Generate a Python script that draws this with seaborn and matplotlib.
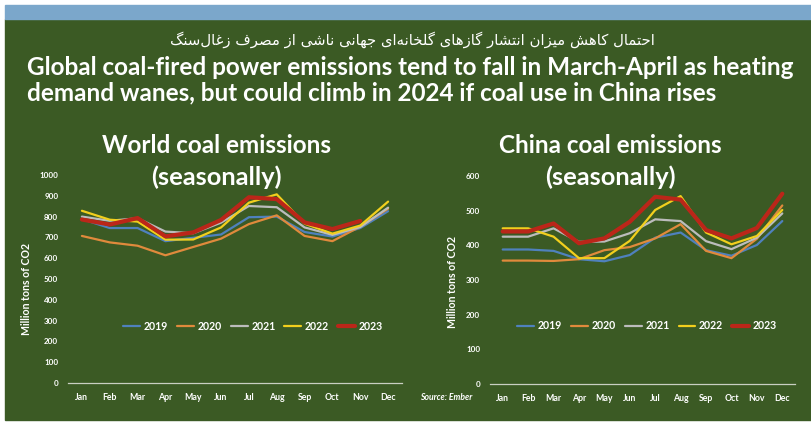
import numpy as np
import pandas as pd
import matplotlib
matplotlib.use("Agg")
import matplotlib.pyplot as plt
import seaborn as sns
from matplotlib.patches import Rectangle
from matplotlib.lines import Line2D

# ---------------- data ----------------
months = ["Jan", "Feb", "Mar", "Apr", "May", "Jun", "Jul", "Aug", "Sep", "Oct", "Nov", "Dec"]
years = ["2019", "2020", "2021", "2022", "2023"]

world_2019 = [788, 745, 745, 682, 698, 714, 797, 800, 726, 704, 745, 826]
world_2020 = [707, 676, 660, 614, 654, 694, 764, 806, 707, 682, 752, 838]
world_2021 = [800, 780, 792, 728, 720, 771, 851, 845, 748, 712, 750, 843]
world_2022 = [828, 785, 776, 689, 690, 748, 867, 907, 766, 718, 757, 872]
world_2023 = [786, 762, 793, 705, 724, 784, 893, 884, 772, 740, 779, np.nan]

china_2019 = [388, 388, 384, 360, 354, 372, 422, 437, 386, 370, 401, 470]
china_2020 = [356, 356, 355, 360, 386, 395, 420, 461, 384, 363, 419, 515]
china_2021 = [425, 425, 449, 410, 411, 435, 475, 470, 412, 389, 422, 492]
china_2022 = [449, 449, 425, 363, 363, 413, 502, 542, 437, 403, 427, 502]
china_2023 = [440, 440, 463, 406, 420, 468, 540, 532, 444, 420, 450, 549]

world_yticks = [0, 100, 200, 300, 400, 500, 600, 700, 800, 900, 1000]
china_yticks = [0, 100, 200, 300, 400, 500, 600]

persian_title = "احتمال کاهش میزان انتشار گازهای گلخانه\u200cای جهانی ناشی از مصرف زغال\u200cسنگ"
title_line1 = "Global coal-fired power emissions tend to fall in March-April as heating"
title_line2 = "demand wanes, but could climb in 2024 if coal use in China rises"
world_title = "World coal emissions"
china_title = "China coal emissions"
sub_title = "(seasonally)"
ylabel = "Million tons of CO2"
source = "Source: Ember"

# ---------------- simple Persian shaping for display ----------------
FORMS = {
    "ا": (0xFE8D, 0xFE8E, None, None),
    "ب": (0xFE8F, 0xFE90, 0xFE91, 0xFE92),
    "ت": (0xFE95, 0xFE96, 0xFE97, 0xFE98),
    "ج": (0xFE9D, 0xFE9E, 0xFE9F, 0xFEA0),
    "ح": (0xFEA1, 0xFEA2, 0xFEA3, 0xFEA4),
    "خ": (0xFEA5, 0xFEA6, 0xFEA7, 0xFEA8),
    "د": (0xFEA9, 0xFEAA, None, None),
    "ر": (0xFEAD, 0xFEAE, None, None),
    "ز": (0xFEAF, 0xFEB0, None, None),
    "س": (0xFEB1, 0xFEB2, 0xFEB3, 0xFEB4),
    "ش": (0xFEB5, 0xFEB6, 0xFEB7, 0xFEB8),
    "ص": (0xFEB9, 0xFEBA, 0xFEBB, 0xFEBC),
    "غ": (0xFECD, 0xFECE, 0xFECF, 0xFED0),
    "ف": (0xFED1, 0xFED2, 0xFED3, 0xFED4),
    "ل": (0xFEDD, 0xFEDE, 0xFEDF, 0xFEE0),
    "م": (0xFEE1, 0xFEE2, 0xFEE3, 0xFEE4),
    "ن": (0xFEE5, 0xFEE6, 0xFEE7, 0xFEE8),
    "ه": (0xFEE9, 0xFEEA, 0xFEEB, 0xFEEC),
    "و": (0xFEED, 0xFEEE, None, None),
    "ک": (0xFB8E, 0xFB8F, 0xFB90, 0xFB91),
    "گ": (0xFB92, 0xFB93, 0xFB94, 0xFB95),
    "ی": (0xFBFC, 0xFBFD, 0xFBFE, 0xFBFF),
}


def shape_rtl(s):
    out = []
    for i, c in enumerate(s):
        if c not in FORMS:
            if c != "\u200c":
                out.append(c)
            continue
        prev = s[i - 1] if i > 0 else None
        nxt = s[i + 1] if i + 1 < len(s) else None
        f = FORMS[c]
        jp = prev in FORMS and FORMS[prev][2] is not None
        jn = f[2] is not None and nxt in FORMS
        if jp and jn:
            g = f[3]
        elif jp:
            g = f[1]
        elif jn:
            g = f[2]
        else:
            g = f[0]
        out.append(chr(g))
    return "".join(out)[::-1]


# ---------------- style ----------------
sns.set_theme(style="white")
plt.rcParams["font.family"] = ["Lato", "DejaVu Sans"]

GREEN = "#3b5a24"
BLUE_BAND = "#7ba7cb"
palette = {"2019": "#4f81bd", "2020": "#e08a3c", "2021": "#bcbcbc",
           "2022": "#f2cf1d", "2023": "#bb2619"}
sizes = {"2019": 1.6, "2020": 1.6, "2021": 1.6, "2022": 1.6, "2023": 3.0}

W, H = 812, 422
fig = plt.figure(figsize=(W / 100, H / 100), dpi=100, facecolor="white")


def fx(px):
    return px / W


def fy(py):
    return 1 - py / H


fig.patches.append(Rectangle((fx(5), fy(420)), 1, fy(19) - fy(420),
                             transform=fig.transFigure, color=GREEN, zorder=-5))
fig.patches.append(Rectangle((fx(5), fy(19)), 1, fy(5) - fy(19),
                             transform=fig.transFigure, color=BLUE_BAND, zorder=-5))


def long_df(series):
    rows = []
    for y, vals in zip(years, series):
        for i, v in enumerate(vals):
            rows.append({"m": i, "Year": y, "value": v})
    return pd.DataFrame(rows)


world_df = long_df([world_2019, world_2020, world_2021, world_2022, world_2023])
china_df = long_df([china_2019, china_2020, china_2021, china_2022, china_2023])

ax1 = fig.add_axes([fx(68), fy(383), fx(402) - fx(68), fy(175) - fy(383)])
ax2 = fig.add_axes([fx(490), fy(384), fx(795) - fx(490), fy(176) - fy(384)])

for ax, df, yt, leg_xy, ylab_xy in [
    (ax1, world_df, world_yticks, (0.554, 0.274), (-0.108, 0.45)),
    (ax2, china_df, china_yticks, (0.515, 0.279), (-0.105, 0.49)),
]:
    ax.set_facecolor("none")
    ax.set_zorder(2)
    sns.lineplot(data=df, x="m", y="value", hue="Year", size="Year",
                 palette=palette, sizes=sizes, hue_order=years, size_order=years,
                 ax=ax, legend=False, sort=False)
    ax.set_xlim(-0.5, 11.5)
    ax.set_ylim(yt[0], yt[-1])
    ax.set_xticks(range(12))
    ax.set_xticklabels(months)
    ax.set_yticks(yt)
    ax.set_yticklabels([str(v) for v in yt])
    ax.tick_params(axis="x", length=0, pad=7.5, labelsize=6.3, labelcolor="white")
    ax.tick_params(axis="y", length=0, pad=7, labelsize=5.8, labelcolor="white")
    for lab in ax.get_xticklabels() + ax.get_yticklabels():
        lab.set_fontweight("bold")
    for s in ["left", "top", "right"]:
        ax.spines[s].set_visible(False)
    ax.spines["bottom"].set_color("#c9cfc2")
    ax.spines["bottom"].set_linewidth(0.9)
    ax.grid(False)
    ax.set_xlabel("")
    ax.set_ylabel(ylabel, color="white", fontsize=7.6, fontweight="bold")
    ax.yaxis.set_label_coords(*ylab_xy)
    handles = [Line2D([], [], color=palette[y], lw=sizes[y]) for y in years]
    ax.legend(handles, years, ncol=5, loc="center", bbox_to_anchor=leg_xy,
              frameon=False, handlelength=1.6, handletextpad=0.35,
              columnspacing=0.85, labelcolor="white",
              prop={"weight": "bold", "size": 7.6})

# ---------------- texts ----------------
t_fa = fig.text(fx(412), fy(45), shape_rtl(persian_title), ha="center", va="baseline",
                color="white", fontsize=11, family=["DejaVu Sans"])
t1 = fig.text(fx(27), fy(75), title_line1, ha="left", va="baseline",
              color="white", fontsize=14, fontweight="bold")
t2 = fig.text(fx(27), fy(100), title_line2, ha="left", va="baseline",
              color="white", fontsize=14, fontweight="bold")
tw1 = fig.text(fx(217), fy(153), world_title, ha="center", va="baseline",
               color="white", fontsize=13, fontweight="bold")
tw2 = fig.text(fx(216), fy(185), sub_title, ha="center", va="baseline",
               color="white", fontsize=13, fontweight="bold")
tc1 = fig.text(fx(610), fy(153), china_title, ha="center", va="baseline",
               color="white", fontsize=13, fontweight="bold")
tc2 = fig.text(fx(610), fy(185), sub_title, ha="center", va="baseline",
               color="white", fontsize=13, fontweight="bold")
fig.text(fx(420), fy(400), source, ha="left", va="baseline", color="white",
         fontsize=6.2, fontstyle="italic", fontweight="bold")

fig.canvas.draw()
renderer = fig.canvas.get_renderer()


def fit(t, target, others=()):
    w = t.get_window_extent(renderer).width
    new = t.get_fontsize() * target / w
    t.set_fontsize(new)
    for o in others:
        o.set_fontsize(new)


fit(t_fa, 485)
fit(t1, 773, [t2])
fit(tw1, 230, [tc1])
fit(tw2, 130, [tc2])

fig.savefig("out.png", dpi=100, facecolor="white")
